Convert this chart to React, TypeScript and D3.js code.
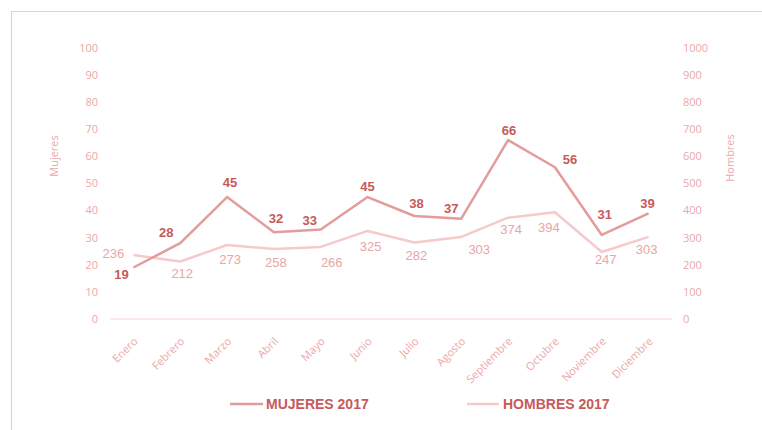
import React from "react";
import * as d3 from "d3";

const months = ["Enero","Febrero","Marzo","Abril","Mayo","Junio","Julio","Agosto","Septiembre","Octubre","Noviembre","Diciembre"];
const mujeres = [19, 28, 45, 32, 33, 45, 38, 37, 66, 56, 31, 39];
const hombres = [236, 212, 273, 258, 266, 325, 282, 303, 374, 394, 247, 303];
const leftTicks = [0, 10, 20, 30, 40, 50, 60, 70, 80, 90, 100];
const rightTicks = [0, 100, 200, 300, 400, 500, 600, 700, 800, 900, 1000];
const seriesNames = ["MUJERES 2017", "HOMBRES 2017"];

// label placement offsets (styling, not data)
const mujDx = [-12, -14, 3, 2, -11, 0, 2, -10, 1, 15, 3, -1];
const mujDy = [7, -11, -15, -14, -9, -11, -13, -10, -10, -8, -21, -10];
const homDx = [-20, 2, 3, 2, 11, 3, 2, 18, 3, -6, 4, -2];
const homDy = [-2, 12, 14, 13, 16, 16, 13, 13, 12, 15, 7, 13];

const W = 762, H = 430;
const x0 = 110, x1 = 672, yTop = 48, yBot = 319;

export default function App() {
  const x = d3.scaleBand<string>().domain(months).range([x0, x1]);
  const cx = (m: string) => (x(m) as number) + x.bandwidth() / 2;
  const yL = d3.scaleLinear().domain([0, 100]).range([yBot, yTop]);
  const yR = d3.scaleLinear().domain([0, 1000]).range([yBot, yTop]);

  const lineM = d3.line<number>().x((_, i) => cx(months[i])).y((d) => yL(d));
  const lineH = d3.line<number>().x((_, i) => cx(months[i])).y((d) => yR(d));

  const tickColor = "#eba8a8";
  const mujColor = "#e39c9c";
  const homColor = "#f6caca";
  const mujLabel = "#c65a5a";
  const homLabel = "#e8a6a6";
  const font = "'Open Sans', 'Liberation Sans', sans-serif";

  return (
    <svg width={W} height={H} style={{ position: "absolute", left: 0, top: 0 }}>
      <rect x={0} y={0} width={W} height={H} fill="#ffffff" />
      <path d={`M11.5,${H} V11.5 H${W}`} fill="none" stroke="#f7c6c6" strokeWidth={1.2} />

      {/* zero line */}
      <line x1={x0} x2={x1} y1={yBot} y2={yBot} stroke="#f6d3d3" strokeWidth={1} />

      {leftTicks.map((t) => (
        <text key={"l" + t} x={98} y={yL(t)} dy="0.35em" textAnchor="end" fontSize={11} fill={tickColor} fontFamily={font}>{t}</text>
      ))}
      {rightTicks.map((t) => (
        <text key={"r" + t} x={683} y={yR(t)} dy="0.35em" textAnchor="start" fontSize={11} fill={tickColor} fontFamily={font}>{t}</text>
      ))}

      <text transform="translate(58,156) rotate(-90)" textAnchor="middle" fontSize={11} fill={tickColor} fontFamily={font}>Mujeres</text>
      <text transform="translate(734,158) rotate(-90)" textAnchor="middle" fontSize={11} fill={tickColor} fontFamily={font}>Hombres</text>

      {months.map((m) => (
        <text key={m} transform={`translate(${cx(m) + 5},${342}) rotate(-45)`} textAnchor="end" fontSize={11} fill={tickColor} fontFamily={font}>{m}</text>
      ))}

      <path d={lineH(hombres) || ""} fill="none" stroke={homColor} strokeWidth={2.5} strokeLinejoin="round" />
      <path d={lineM(mujeres) || ""} fill="none" stroke={mujColor} strokeWidth={2.5} strokeLinejoin="round" />

      {hombres.map((v, i) => (
        <text key={"h" + i} x={cx(months[i]) + homDx[i]} y={yR(v) + homDy[i]} dy="0.35em" textAnchor="middle" fontSize={13} fill={homLabel} fontFamily="'Liberation Sans', Arial, sans-serif">{v}</text>
      ))}
      {mujeres.map((v, i) => (
        <text key={"m" + i} x={cx(months[i]) + mujDx[i]} y={yL(v) + mujDy[i]} dy="0.35em" textAnchor="middle" fontSize={13} fontWeight="bold" fill={mujLabel} fontFamily="'Liberation Sans', Arial, sans-serif">{v}</text>
      ))}

      {/* legend */}
      <line x1={230} x2={263} y1={404} y2={404} stroke={mujColor} strokeWidth={2.5} />
      <text x={266} y={404} dy="0.36em" fontSize={14} fontWeight="bold" fill={mujLabel} fontFamily="'Liberation Sans', Arial, sans-serif">{seriesNames[0]}</text>
      <line x1={467} x2={499} y1={404} y2={404} stroke={homColor} strokeWidth={2.5} />
      <text x={503} y={404} dy="0.36em" fontSize={14} fontWeight="bold" fill={mujLabel} fontFamily="'Liberation Sans', Arial, sans-serif">{seriesNames[1]}</text>
    </svg>
  );
}
